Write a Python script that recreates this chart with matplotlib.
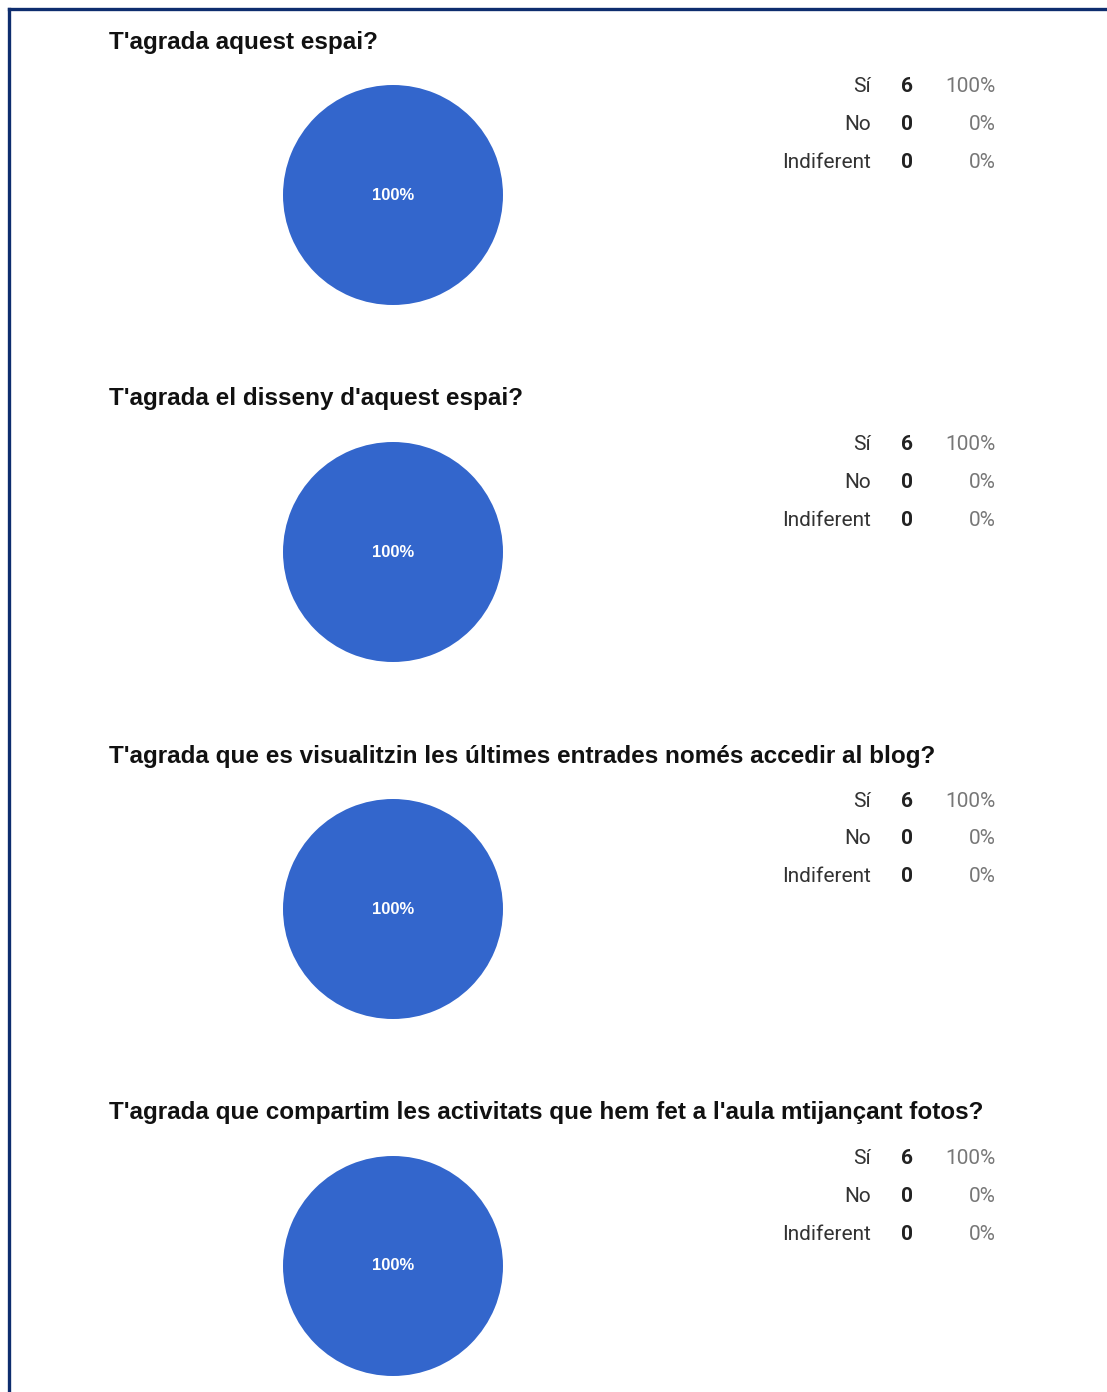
import matplotlib
matplotlib.use("Agg")
import matplotlib.pyplot as plt
from matplotlib.lines import Line2D

# survey data
questions = [
    "T'agrada aquest espai?",
    "T'agrada el disseny d'aquest espai?",
    "T'agrada que es visualitzin les últimes entrades només accedir al blog?",
    "T'agrada que compartim les activitats que hem fet a l'aula mtijançant fotos?",
]
answers = ["Sí", "No", "Indiferent"]
counts = [
    [6, 0, 0],
    [6, 0, 0],
    [6, 0, 0],
    [6, 0, 0],
]
pie_colors = ["#3366cc", "#dc3912", "#ff9900"]

W, H = 1107, 1392
fig = plt.figure(figsize=(W / 100, H / 100), dpi=100)
fig.patch.set_facecolor("white")


def fx(px):
    return px / W


def fy(py):
    return 1 - py / H


narrow = ["Liberation Sans Narrow", "Roboto", "DejaVu Sans"]
navy = "#0e2d6e"

# frame (left + top)
fig.add_artist(Line2D([fx(8.5), fx(8.5)], [fy(8.5), fy(H + 5)], color=navy,
                      lw=2.4, transform=fig.transFigure))
fig.add_artist(Line2D([fx(8.5), fx(W + 5)], [fy(8.5), fy(8.5)], color=navy,
                      lw=2.4, transform=fig.transFigure))

step = 357
for k, (q, c) in enumerate(zip(questions, counts)):
    y0 = 40 + step * k
    fig.text(fx(109), fy(y0 + 2), q, fontsize=17.5, fontweight="bold",
             family=["Liberation Sans", "DejaVu Sans"], color="#111111",
             va="center", ha="left")

    cy = y0 + 155
    r = 110
    ax = fig.add_axes([fx(393 - r), fy(cy + r), 2 * r / W, 2 * r / H])
    ax.pie(c, colors=pie_colors, startangle=90, counterclock=False,
           wedgeprops=dict(linewidth=0))
    ax.set_xlim(-1, 1)
    ax.set_ylim(-1, 1)
    ax.set_aspect("equal")
    ax.axis("off")
    total = sum(c)
    top = max(range(len(c)), key=lambda i: c[i])
    ax.text(0, 0, "%d%%" % round(100 * c[top] / total), color="white",
            fontsize=12, fontweight="bold", ha="center", va="center",
            family=["Liberation Sans", "DejaVu Sans"])

    for j, (a, n) in enumerate(zip(answers, c)):
        ry = y0 + 47 + 38 * j
        fig.text(fx(871), fy(ry), a, fontsize=15, family=narrow,
                 color="#333333", ha="right", va="center")
        fig.text(fx(907), fy(ry), str(n), fontsize=15, family=narrow,
                 fontweight="bold", color="#222222", ha="center", va="center")
        fig.text(fx(996), fy(ry), "%d%%" % round(100 * n / total),
                 fontsize=15, family=narrow, color="#777777",
                 ha="right", va="center")

fig.savefig("out.png", dpi=100, facecolor="white")
